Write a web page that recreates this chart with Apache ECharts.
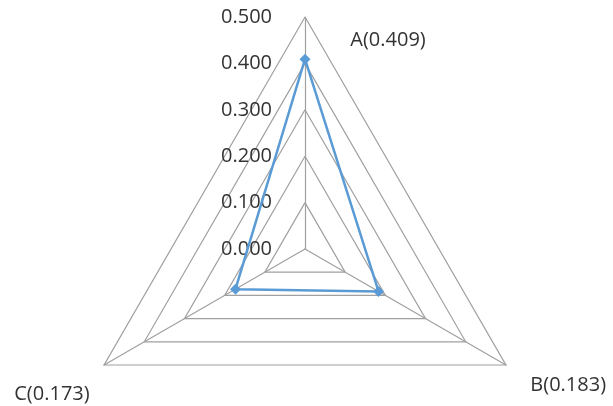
<!DOCTYPE html>
<html>
<head>
<meta charset="utf-8">
<script src="https://cdn.jsdelivr.net/npm/echarts@6/dist/echarts.min.js"></script>
<style>
  html, body { margin: 0; padding: 0; background: #fff; }
  #chart { width: 613px; height: 406px; }
</style>
</head>
<body>
<div id="chart"></div>
<script>
// Indicator names and their scores (radar runs counter-clockwise from the top)
const categories = ['A', 'C', 'B'];
const values = [0.409, 0.173, 0.183];
// Scale of the radial axis
const axisMin = 0;
const axisMax = 0.5;
const axisStep = 0.1;

const FONT = '"Open Sans", "Noto Sans", sans-serif';
const TEXT = '#333333';
const GRID = '#a0a0a0';
const LINE = '#5b9bd5';
const FS = 20;

const cx = 305, cy = 249, R = 232;

const chart = echarts.init(document.getElementById('chart'));

// Per-indicator offsets for the axis names
const nameStyle = {
  A: { padding: [0, 0, 0, 166] },
  B: { padding: [73, 0, 0, 53] },
  C: { padding: [91, 43, 0, 0] }
};
const rich = {};
categories.forEach(c => {
  rich[c] = Object.assign({ color: TEXT, fontFamily: FONT, fontSize: FS }, nameStyle[c]);
});

chart.setOption({
  animation: false,
  // Hidden cartesian frame that carries the value labels along the vertical spoke
  grid: { left: cx, top: cy - R, width: 1, height: R },
  xAxis: { type: 'value', show: false },
  yAxis: {
    type: 'value',
    min: axisMin,
    max: axisMax,
    interval: axisStep,
    axisLine: { show: false },
    axisTick: { show: false },
    splitLine: { show: false },
    axisLabel: {
      margin: 33,
      color: TEXT,
      fontFamily: FONT,
      fontSize: FS,
      formatter: v => v.toFixed(3)
    }
  },
  radar: {
    center: [cx, cy],
    radius: R,
    startAngle: 90,
    shape: 'polygon',
    splitNumber: 5,
    axisNameGap: -33,
    indicator: categories.map(c => ({ name: c, min: axisMin, max: axisMax })),
    axisName: {
      color: TEXT,
      fontFamily: FONT,
      fontSize: FS,
      formatter: (name) => {
        const i = categories.indexOf(name);
        return '{' + name + '|' + name + '(' + values[i].toFixed(3) + ')}';
      },
      rich: rich
    },
    axisLine: { lineStyle: { color: GRID, width: 1.2 } },
    axisTick: { show: false },
    axisLabel: { show: false },
    splitLine: { lineStyle: { color: GRID, width: 1.2 } },
    splitArea: { show: false }
  },
  series: [{
    type: 'radar',
    symbol: 'diamond',
    symbolSize: 11,
    lineStyle: { color: LINE, width: 2.5 },
    itemStyle: { color: LINE },
    data: [{ value: values }]
  }]
});
</script>
</body>
</html>
